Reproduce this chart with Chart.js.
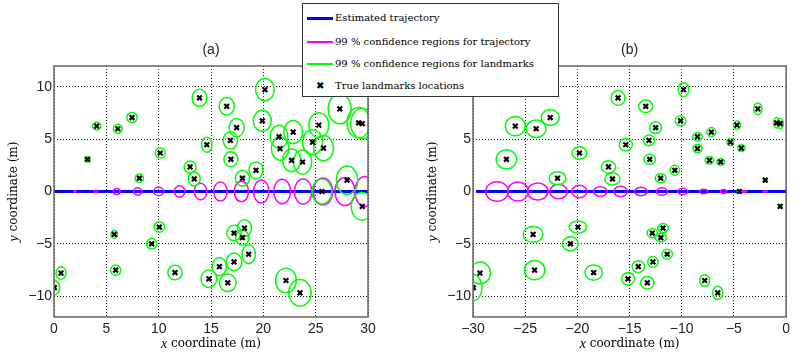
<!DOCTYPE html>
<html>
<head>
<meta charset="utf-8">
<script src="https://cdn.jsdelivr.net/npm/chart.js@4.4.1/dist/chart.umd.min.js"></script>
<style>
html,body{margin:0;padding:0;background:#fff;}
#wrap{position:relative;width:794px;height:352px;overflow:hidden;}
.pane{position:absolute;top:0;width:397px;height:352px;}
#legend{position:absolute;left:302px;top:3px;width:255px;height:92px;border:1px solid #333;background:#fff;
  font-family:"DejaVu Serif",serif;font-size:10px;color:#000;}
.row{position:absolute;left:0;width:255px;height:14px;}
.sw{position:absolute;left:4px;width:26px;}
.txt{position:absolute;left:32px;top:0;line-height:14px;white-space:nowrap;}
.mk{position:absolute;left:13px;top:2px;font-family:"DejaVu Sans";font-weight:bold;font-size:10px;line-height:10px;}
</style>
</head>
<body>
<div id="wrap">
  <div class="pane" style="left:0"><canvas id="ca"></canvas></div>
  <div class="pane" style="left:397px"><canvas id="cb"></canvas></div>
  <div id="legend">
    <div class="row" style="top:7px"><div class="sw" style="top:6px;height:3px;background:#0000ff"></div><div class="txt">Estimated trajectory</div></div>
    <div class="row" style="top:31px"><div class="sw" style="top:6px;height:2px;background:#ff00ff"></div><div class="txt">99 % confidence regions for trajectory</div></div>
    <div class="row" style="top:53px"><div class="sw" style="top:6px;height:2px;background:#00ff00"></div><div class="txt">99 % confidence regions for landmarks</div></div>
    <div class="row" style="top:75px"><div class="mk">&#x2716;</div><div class="txt">True landmarks locations</div></div>
  </div>
</div>
<script>
// landmark positions, panel (a)
const lmXa = [0.03,0.67,3.2,4.08,5.76,5.89,6.1,7.45,8.15,9.33,10.06,10.15,11.56,13.0,13.4,13.9,14.6,14.8,15.8,16.5,16.6,16.85,16.9,17.2,17.2,17.45,18.0,18.0,18.2,18.6,19.3,19.9,20.15,21.5,21.6,22.16,22.7,22.85,23.5,23.75,24.7,25.3,25.6,25.75,27.3,28.0,29.1,29.45,29.45];
// landmark positions, panel (b)
const lmXb = [-29.97,-29.33,-26.8,-25.95,-24.24,-24.1,-23.95,-22.6,-21.9,-20.67,-19.94,-19.8,-18.44,-17.02,-16.64,-16.1,-15.36,-15.14,-14.16,-13.45,-13.3,-13.14,-13.07,-12.82,-12.76,-12.5,-12.02,-12.0,-11.8,-11.39,-10.66,-10.11,-9.83,-8.49,-8.49,-7.8,-7.35,-7.16,-6.55,-6.27,-5.34,-4.71,-4.48,-4.29,-2.71,-2.0,-0.9,-0.57,-0.57];
const lmY = [-9.2,-7.8,3.08,6.25,-4.1,-7.52,6.0,7.07,1.27,-5.0,-3.4,3.68,-7.75,2.35,1.2,8.95,4.47,-8.35,-7.18,8.15,-8.73,4.89,3.08,-3.97,-6.73,6.1,1.27,-4.42,-3.5,-6.0,2.03,6.76,9.74,5.24,4.1,-8.51,2.98,5.68,-9.69,2.82,4.72,6.35,0,4.15,7.9,1.08,6.57,6.5,-1.42];

// 99% landmark ellipses: semi-axes (m)
const lmRxA = [0.5,0.48,0.25,0.4,0.32,0.48,0.42,0.5,0.4,0.48,0.5,0.48,0.68,0.57,0.56,0.7,0.5,0.75,0.67,0.72,0.8,0.68,0.67,0.68,0.75,0.72,0.68,0.64,0.67,0.64,0.67,0.86,0.89,0.84,0.83,0.99,0.87,0.9,1.07,0.87,0.95,0.95,0.95,0.95,1.1,1.02,1.1,1.1,1.05];
const lmRyA = [0.7,0.6,0.25,0.36,0.37,0.49,0.42,0.48,0.4,0.5,0.5,0.5,0.7,0.57,0.67,0.83,0.72,0.84,0.87,0.84,0.83,0.83,0.71,0.75,0.84,0.87,0.75,0.71,0.79,0.9,0.8,1.0,1.06,1.1,1.1,1.17,1.08,1.1,1.27,1.16,1.19,1.19,1.19,1.2,1.43,1.35,1.46,1.46,1.32];
const lmRxB = [0.83,1.0,0.98,0.95,0.95,0.98,0.95,0.87,0.8,0.75,0.83,0.72,0.84,0.68,0.73,0.67,0.64,0.62,0.6,0.67,0.64,0.54,0.56,0.5,0.5,0.56,0.52,0.55,0.5,0.5,0.45,0.51,0.51,0.46,0.43,0.48,0.4,0.43,0.48,0.37,0.32,0.35,0.2,0.35,0.4,0.15,0.3,0.3,0.15];
const lmRyB = [1.24,1.05,0.92,0.92,0.76,0.92,0.83,0.75,0.63,0.68,0.59,0.6,0.73,0.59,0.57,0.71,0.59,0.6,0.56,0.6,0.6,0.51,0.48,0.43,0.52,0.56,0.43,0.4,0.44,0.48,0.48,0.48,0.67,0.4,0.4,0.56,0.37,0.43,0.64,0.32,0.35,0.4,0.15,0.32,0.57,0.15,0.5,0.5,0.15];

// 99% trajectory ellipses
const trXa  = [2,4,6,8,10,12,14,15.9,17.9,19.8,21.8,23.8,25.7,27.8,29.7];
const trRxA = [0.13,0.15,0.32,0.38,0.48,0.5,0.6,0.64,0.68,0.73,0.8,0.83,0.92,0.95,0.95];
const trRyA = [0.06,0.12,0.28,0.35,0.4,0.55,0.79,0.92,0.98,1.1,1.17,1.2,1.3,1.35,1.43];
const trXb  = [-2,-4,-6,-7.9,-9.9,-11.9,-13.9,-15.85,-17.8,-19.8,-21.8,-23.8,-25.7,-27.7];
const trRxB = [0.24,0.24,0.29,0.38,0.48,0.52,0.6,0.64,0.64,0.72,0.84,0.98,1.0,1.08];
const trRyB = [0.05,0.06,0.18,0.22,0.3,0.35,0.4,0.5,0.45,0.6,0.7,0.82,0.92,0.94];

// estimated trajectory end points
const pathXa = [0,30], pathXb = [-29.7,0], pathY = [0,0];

const xTicksA = [0,5,10,15,20,25,30];
const xTicksB = [-30,-25,-20,-15,-10,-5,0];
const yTicks = [-10,-5,0,5,10];

const fmt = v => v<0 ? '\u2212'+Math.abs(v) : String(v);
const TICKFONT = {family:'"Liberation Sans", Arial, sans-serif', size:14};

function axisTitle(ctx,cx,cy,it,rest,rot){
  ctx.save(); ctx.translate(cx,cy); if(rot) ctx.rotate(-Math.PI/2);
  const fi='italic 14px "Liberation Serif"', fr='12px "DejaVu Serif"';
  ctx.font=fi; const w1=ctx.measureText(it).width;
  ctx.font=fr; const w2=ctx.measureText(rest).width;
  const x0=-(w1+w2)/2;
  ctx.textBaseline='middle'; ctx.textAlign='left'; ctx.fillStyle='#000';
  ctx.font=fi; ctx.fillText(it,x0,0);
  ctx.font=fr; ctx.fillText(rest,x0+w1,0);
  ctx.restore();
}

const panelDraw = {
  id:'panelDraw',
  afterDatasetDraw(chart,args,o){
    if(args.index!==1) return;
    const {ctx,chartArea:a,scales:{x,y}} = chart;
    ctx.save();
    ctx.beginPath(); ctx.rect(a.left,a.top,a.right-a.left,a.bottom-a.top); ctx.clip();
    const ell=(cx,cy,rx,ry,col)=>{
      const px=x.getPixelForValue(cx), py=y.getPixelForValue(cy);
      const rpx=Math.abs(x.getPixelForValue(cx+rx)-px), rpy=Math.abs(y.getPixelForValue(cy+ry)-py);
      ctx.beginPath(); ctx.ellipse(px,py,rpx,rpy,0,0,Math.PI*2);
      ctx.strokeStyle=col; ctx.lineWidth=1.5; ctx.stroke();
    };
    o.trX.forEach((v,i)=>ell(v,0,o.trRx[i],o.trRy[i],'#ff00ff'));
    o.lmX.forEach((v,i)=>ell(v,lmY[i],o.lmRx[i],o.lmRy[i],'#00ff00'));
    ctx.restore();
  },
  afterDraw(chart,args,o){
    const {ctx,chartArea:a} = chart;
    ctx.save();
    ctx.strokeStyle='#666'; ctx.lineWidth=1.5;
    ctx.strokeRect(a.left,a.top,a.right-a.left,a.bottom-a.top);
    ctx.fillStyle='#222'; ctx.font='14px "Liberation Sans", Arial, sans-serif';
    ctx.textAlign='center'; ctx.textBaseline='middle';
    ctx.fillText(o.title,(a.left+a.right)/2,50);
    ctx.restore();
    axisTitle(ctx,(a.left+a.right)/2,344,'x',' coordinate (m)',false);
    axisTitle(ctx,a.left-40,(a.top+a.bottom)/2,'y',' coordinate (m)',true);
  }
};

function makePanel(id,xs,xTicks,pathX,trX,trRx,trRy,lmRx,lmRy,title,pad){
  const scaleCommon = {
    type:'linear',
    grid:{color:'#222',lineWidth:1,drawTicks:false},
    border:{display:false,dash:[1,2]},
    ticks:{font:TICKFONT,color:'#222',callback:fmt,autoSkip:false,maxRotation:0}
  };
  return new Chart(document.getElementById(id),{
    type:'scatter',
    data:{datasets:[
      {type:'scatter',data:xs.map((v,i)=>({x:v,y:lmY[i]})),pointStyle:'crossRot',pointRadius:3.3,
       pointBorderWidth:2.2,borderColor:'#000',backgroundColor:'#000'},
      {type:'line',data:pathX.map((v,i)=>({x:v,y:pathY[i]})),borderColor:'#0000ff',borderWidth:3,pointRadius:0,fill:false}
    ]},
    options:{
      responsive:false,animation:false,devicePixelRatio:1,
      layout:{padding:pad},
      plugins:{legend:{display:false},tooltip:{enabled:false},
        panelDraw:{trX,trRx,trRy,lmX:xs,lmRx,lmRy,title}},
      scales:{
        x:{...scaleCommon,min:xTicks[0],max:xTicks[xTicks.length-1],
           afterBuildTicks:s=>{s.ticks=xTicks.map(v=>({value:v}));},
           afterFit:s=>{s.height=35;},
           ticks:{...scaleCommon.ticks,padding:4}},
        y:{...scaleCommon,min:-12,max:12,
           afterBuildTicks:s=>{s.ticks=yTicks.map(v=>({value:v}));},
           afterFit:s=>{s.width=54;},
           ticks:{...scaleCommon.ticks,padding:2}}
      }
    },
    plugins:[panelDraw]
  });
}

['ca','cb'].forEach(id=>{const c=document.getElementById(id);c.width=397;c.height=352;c.style.width='397px';c.style.height='352px';});
makePanel('ca',lmXa,xTicksA,pathXa,trXa,trRxA,trRyA,lmRxA,lmRyA,'(a)',{left:0,right:29,top:66,bottom:0});
makePanel('cb',lmXb,xTicksB,pathXb,trXb,trRxB,trRyB,lmRxB,lmRyB,'(b)',{left:22,right:6,top:66,bottom:0});
</script>
</body>
</html>
